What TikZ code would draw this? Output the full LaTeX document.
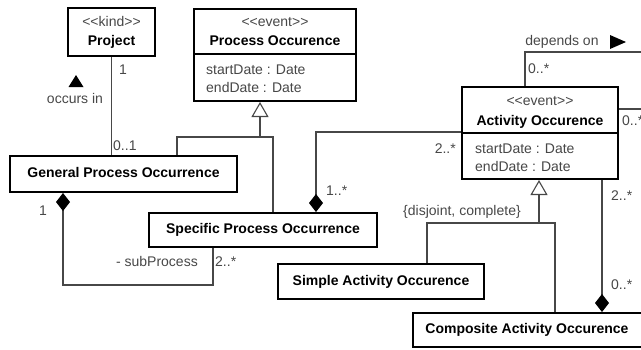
\documentclass[tikz,border=0pt]{standalone}
\usepackage{fontspec}
\setmainfont{Liberation Sans}
\usetikzlibrary{arrows.meta}
\begin{document}
\begin{tikzpicture}[x=1pt,y=-1pt,
  box/.style={draw=black, line width=2.4pt, fill=white, inner sep=0pt},
  lbl/.style={font=\fontsize{14}{16}\selectfont, text=black!72, inner sep=0pt, text height=10pt, text depth=3pt},
  cname/.style={font=\fontsize{14}{16}\selectfont\bfseries, text=black, inner sep=0pt, text height=10pt, text depth=3pt},
  conn/.style={draw=black!72, line width=1.1pt},
  sepline/.style={draw=black, line width=1.1pt},
  gen/.style={conn, -{Triangle[open, length=15pt, width=17pt, line width=1.1pt]}},
  comp/.style={conn, {Diamond[length=18pt, width=14pt, fill=black, color=black]}-},
  dirtri/.style={fill=black}
]
\useasboundingbox (0,0) rectangle (641,349);
\clip (0,0) rectangle (641,349);

% class boxes
\node[box, minimum width=86.6pt, minimum height=47.6pt] (proj) at (111.5,32) {};
\node[box, minimum width=161.6pt, minimum height=91.6pt] (po) at (275,55) {};
\node[box, minimum width=226.6pt, minimum height=35.6pt] (gpo) at (123.5,174) {};
\node[box, minimum width=227.6pt, minimum height=33.6pt] (spo) at (263,230) {};
\node[box, minimum width=155.6pt, minimum height=91.6pt] (ao) at (540,133) {};
\node[box, minimum width=205.6pt, minimum height=34.6pt] (sao) at (381,281.5) {};
\node[box, minimum width=231.6pt, minimum height=33.6pt] (cao) at (529,330) {};

% compartments
\coordinate (posep) at (0,54);
\coordinate (aosep) at (0,133);
\draw[sepline] (po.west |- posep) -- (po.east |- posep);
\draw[sepline] (ao.west |- aosep) -- (ao.east |- aosep);

% texts
\node[lbl] (projst) at (111.5,23) {<\kern0pt<kind>\kern0pt>};
\node[cname] (projn) at (111.5,42) {Project};
\node[lbl] (post) at (275,23) {<\kern0pt<event>\kern0pt>};
\node[cname] (pon) at (275,42) {Process Occurence};
\node[lbl, anchor=west] (poa1) at (206,71) {startDate : Date};
\node[lbl, anchor=west] (poa2) at (206,89) {endDate : Date};
\node[lbl] (aost) at (540,102) {<\kern0pt<event>\kern0pt>};
\node[cname] (aon) at (540,122) {Activity Occurence};
\node[lbl, anchor=west] (aoa1) at (475,150) {startDate : Date};
\node[lbl, anchor=west] (aoa2) at (475,168) {endDate : Date};
\node[cname] (gpon) at (gpo.center) {General Process Occurrence};
\node[cname] (spon) at (spo.center) {Specific Process Occurrence};
\node[cname] (saon) at (sao.center) {Simple Activity Occurence};
\node[cname] (caon) at (527,330) {Composite Activity Occurence};

% Project -- GPO
\draw[conn] (proj.south) -- (proj.south |- gpo.north);
\node[lbl, anchor=west] (m1) at (119,71) {1};
\node[lbl, anchor=west] (m2) at (113,147) {0..1};
\node[lbl] (occ) at (75,100) {occurs in};
\fill[dirtri] (68.5,87) -- (76,75) -- (83.5,87) -- cycle;

% generalization to Process Occurence
\coordinate (pgL) at (177,137);
\coordinate (pgR) at (273,137);
\coordinate (pgM) at (260,137);
\draw[conn] (pgL |- gpo.north) -- (pgL) -- (pgR) -- (pgR |- spo.north);
\draw[gen] (pgM) -- (pgM |- po.south);

% AO -- SPO composition
\coordinate (as) at (316,132);
\draw[comp] (spo.north -| as) -- (as) -- (as -| ao.west);
\node[lbl, anchor=east] (m3) at (456,150) {2..*};
\node[lbl, anchor=west] (m4) at (326,192) {1..*};

% GPO -- SPO composition
\coordinate (sc1) at (63,285);
\coordinate (sc2) at (213,285);
\draw[comp] (gpo.south -| sc1) -- (sc1) -- (sc2) -- (sc2 |- spo.south);
\node[lbl] (m5) at (43,212) {1};
\node[lbl, anchor=east] (sub) at (198,263) {- subProcess};
\node[lbl, anchor=west] (m6) at (215,263) {2..*};

% depends on (self association)
\coordinate (d1) at (525,52);
\coordinate (d2) at (660,52);
\coordinate (d3) at (660,109);
\draw[conn] (ao.north -| d1) -- (d1) -- (d2) -- (d3) -- (ao.east |- d3);
\node[lbl] (dep) at (562,42) {depends on};
\fill[dirtri] (610,35) -- (626,42) -- (610,49) -- cycle;
\node[lbl, anchor=west] (m7) at (528,70) {0..*};
\node[lbl, anchor=west] (m8) at (622,122) {0..*};

% generalization to Activity Occurence
\coordinate (agL) at (427,223);
\coordinate (agR) at (555,223);
\coordinate (agM) at (539,223);
\draw[conn] (agL |- sao.north) -- (agL) -- (agR) -- (agR |- cao.north);
\draw[gen] (agM) -- (agM |- ao.south);
\node[lbl] (dc) at (462,212) {\{disjoint, complete\}};

% AO -- CAO composition
\coordinate (cc) at (602,250);
\draw[comp] (cao.north -| cc) -- (cc |- ao.south);
\node[lbl, anchor=west] (m9) at (611,197) {2..*};
\node[lbl, anchor=west] (m10) at (611,286) {0..*};
\end{tikzpicture}
\end{document}
